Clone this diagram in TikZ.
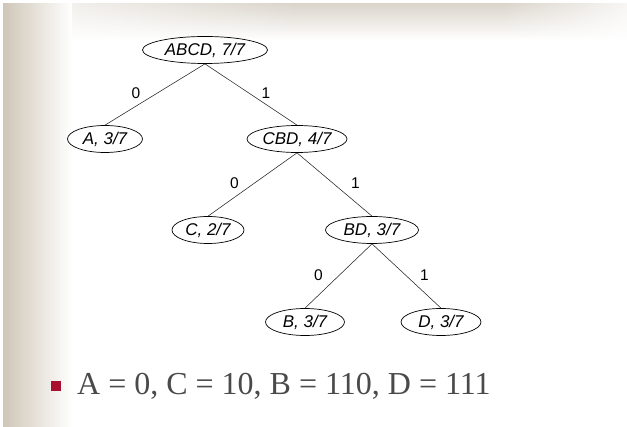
\documentclass[tikz,border=0pt]{standalone}
\usepackage{fontspec}
\setmainfont{Liberation Serif}
\setsansfont{Liberation Sans}
\usetikzlibrary{shapes.geometric,fadings}
\definecolor{beige}{HTML}{CFC6B7}
\definecolor{beigelight}{HTML}{DAD4CA}
\definecolor{bulletred}{HTML}{A8102E}
\definecolor{textgray}{HTML}{4A4A4A}
\begin{document}
\begin{tikzpicture}[x=1pt,y=-1pt,
  tnode/.style={ellipse,draw=black,line width=0.7pt,inner sep=0pt,minimum height=27pt,
    font=\sffamily\itshape\fontsize{17}{17}\selectfont},
  edge/.style={draw=black!85,line width=0.55pt},
  elab/.style={font=\sffamily\fontsize{15.5}{15.5}\selectfont,inner sep=0pt}]
\useasboundingbox (0,0) rectangle (627,427);
\fill[white] (0,0) rectangle (627,427);
% background decoration
\shade[top color=beigelight,bottom color=white] (0,3) rectangle (627,40);
\fill[white,path fading=east,opacity=0.85] (0,3) rectangle (300,40);
\fill[white,path fading=west,opacity=0.8] (500,3) rectangle (627,40);
\shade[left color=beige,right color=white] (3,3) rectangle (72,427);
\fill[white] (0,0) rectangle (627,3);
\fill[white] (0,0) rectangle (3,427);
% nodes
\node[tnode,minimum width=125pt] (abcd) at (205,50) {ABCD, 7/7};
\node[tnode,minimum width=75pt] (a) at (105,139) {A, 3/7};
\node[tnode,minimum width=100pt] (cbd) at (297,139) {CBD, 4/7};
\node[tnode,minimum width=72pt] (c) at (208,230) {C, 2/7};
\node[tnode,minimum width=93pt] (bd) at (372,230) {BD, 3/7};
\node[tnode,minimum width=79pt] (b) at (305,322) {B, 3/7};
\node[tnode,minimum width=80pt] (d) at (441,322) {D, 3/7};
% edges
\draw[edge] (abcd.south) -- node[elab,pos=0.5,xshift=-19pt,yshift=1pt] {0} (a.north);
\draw[edge] (abcd.south) -- node[elab,pos=0.5,xshift=15pt,yshift=1pt] {1} (cbd.north);
\draw[edge] (cbd.south) -- node[elab,pos=0.5,xshift=-18pt,yshift=1pt] {0} (c.north);
\draw[edge] (cbd.south) -- node[elab,pos=0.5,xshift=21pt,yshift=1pt] {1} (bd.north);
\draw[edge] (bd.south) -- node[elab,pos=0.5,xshift=-20pt,yshift=1pt] {0} (b.north);
\draw[edge] (bd.south) -- node[elab,pos=0.5,xshift=18pt,yshift=1pt] {1} (d.north);
% bullet line
\node[fill=bulletred,minimum size=10pt,inner sep=0pt] (sq) at (56,386) {};
\node[anchor=west,inner sep=0pt,text=textgray,font=\fontsize{32}{32}\selectfont] (code) at (77,386) {A = 0, C = 10, B = 110, D = 111};
\end{tikzpicture}
\end{document}
